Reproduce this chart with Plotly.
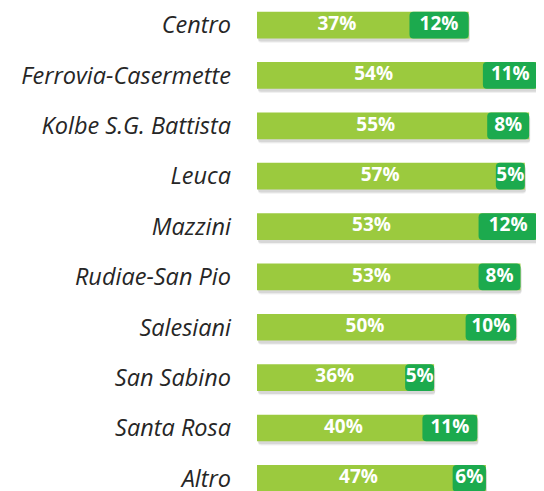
import plotly.graph_objects as go

categories = ["Centro", "Ferrovia-Casermette", "Kolbe S.G. Battista", "Leuca", "Mazzini",
              "Rudiae-San Pio", "Salesiani", "San Sabino", "Santa Rosa", "Altro"]
light_vals = [37, 54, 55, 57, 53, 53, 50, 36, 40, 47]
dark_vals = [12, 11, 8, 5, 12, 8, 10, 5, 11, 6]

idx = list(range(len(categories)))
totals = [a + b for a, b in zip(light_vals, dark_vals)]

LIGHT = "#9BCA3E"
DARK = "#1CAA4E"
BW = 0.53
OV = 1.7      # visual overlap of the dark label box onto the light bar (axis units)
SH = 0.06     # shadow vertical shift (axis units)

fig = go.Figure()
# soft shadows
for sh, op in [(SH * 1.4, 0.06), (SH, 0.10)]:
    fig.add_trace(go.Bar(
        y=idx, x=totals, base=0.25, orientation="h",
        marker=dict(color=f"rgba(0,0,0,{op})", line=dict(width=0), cornerradius=3),
        width=BW, offset=-BW / 2 + sh, hoverinfo="skip",
    ))
# light segment (full length underneath the dark one)
fig.add_trace(go.Bar(
    y=idx, x=totals, orientation="h",
    marker=dict(color=LIGHT, line=dict(width=0)),
    width=BW, offset=-BW / 2, hoverinfo="skip",
))
# dark segment on top, rounded corners
fig.add_trace(go.Bar(
    y=idx, x=[d + OV for d in dark_vals], base=[v - OV for v in light_vals], orientation="h",
    marker=dict(color=DARK, cornerradius=4, line=dict(width=0)),
    width=BW, offset=-BW / 2, hoverinfo="skip",
))
# labels
fig.add_trace(go.Scatter(
    y=idx, x=[v / 2 for v in light_vals], mode="text",
    text=[f"{v}%" for v in light_vals],
    textfont=dict(color="white", size=19, family="Open Sans", weight="bold"),
    cliponaxis=False, hoverinfo="skip",
))
fig.add_trace(go.Scatter(
    y=idx, x=[(a - OV + t) / 2 for a, t in zip(light_vals, totals)], mode="text",
    text=[f"{v}%" for v in dark_vals],
    textfont=dict(color="white", size=19, family="Open Sans", weight="bold"),
    cliponaxis=False, hoverinfo="skip",
))

fig.update_layout(
    barmode="overlay",
    width=544, height=491,
    margin=dict(l=249, r=0, t=0, b=0),
    paper_bgcolor="white", plot_bgcolor="white",
    showlegend=False,
    xaxis=dict(range=[0, 68.3], visible=False, showgrid=False, zeroline=False),
    yaxis=dict(range=[9.41, -0.3], tickvals=idx, ticktext=categories,
               showgrid=False, zeroline=False, showline=False,
               ticks="", ticklabelstandoff=25, ticklabeloverflow="allow",
               tickfont=dict(family="Open Sans", size=23.5, color="#262626", style="italic")),
)

fig.write_html("out.html")
